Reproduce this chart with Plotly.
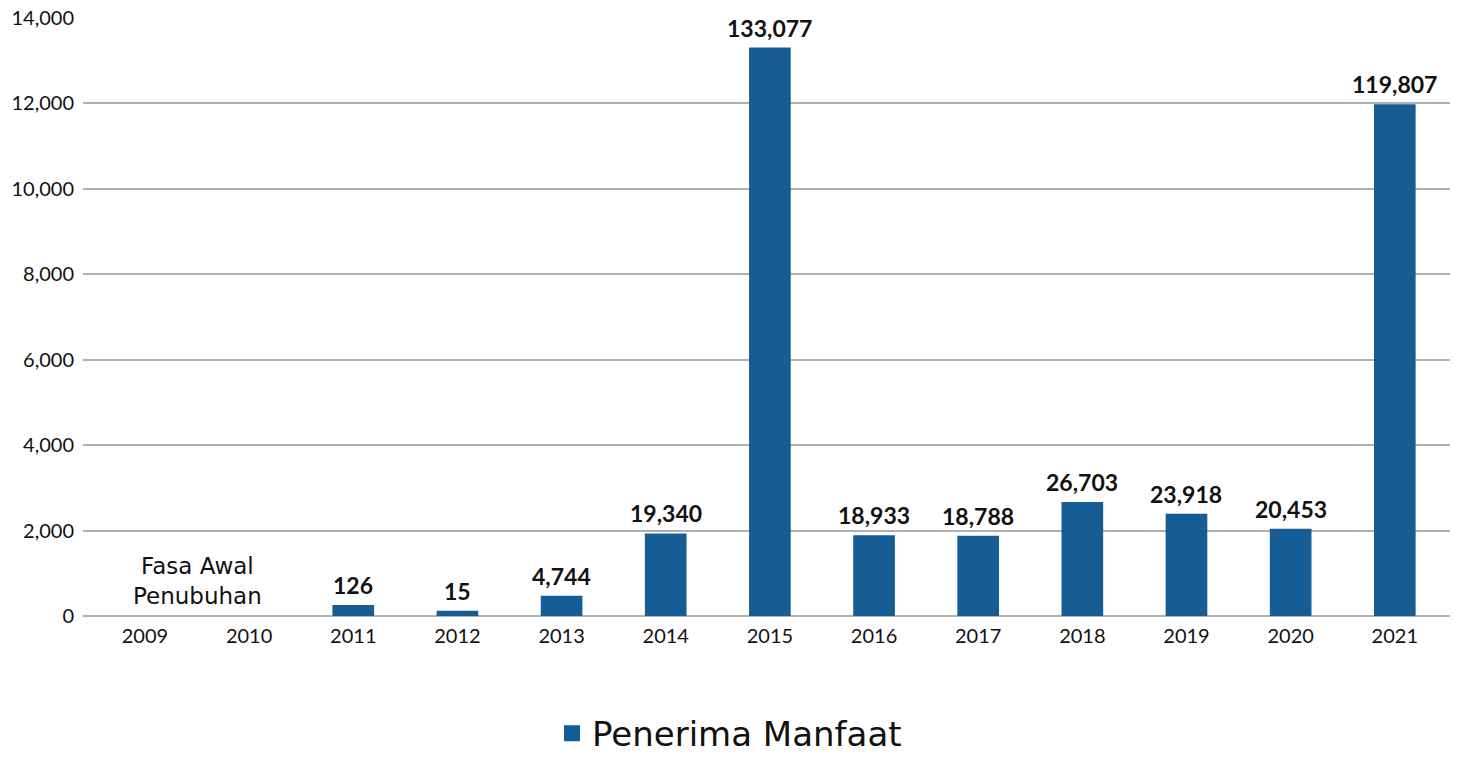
import plotly.graph_objects as go

years = ["2009", "2010", "2011", "2012", "2013", "2014", "2015", "2016", "2017", "2018", "2019", "2020", "2021"]
bar_values = [None, None, 255, 120, 474, 1934, 13308, 1893, 1879, 2670, 2392, 2045, 11981]
label_texts = ["", "", "126", "15", "4,744", "19,340", "133,077", "18,933", "18,788", "26,703", "23,918", "20,453", "119,807"]
y_ticks = [0, 2000, 4000, 6000, 8000, 10000, 12000, 14000]
series_name = "Penerima Manfaat"
note_text = "Fasa Awal<br>Penubuhan"

BAR = "#165d96"
FONT = "Lato, 'Open Sans', sans-serif"
WIDE = "'DejaVu Sans', 'Open Sans', sans-serif"

fig = go.Figure()
fig.add_trace(go.Bar(
    x=years, y=bar_values, marker_color=BAR, marker_line_width=0,
    showlegend=False, hoverinfo="skip",
))
# legend entry
fig.add_trace(go.Scatter(
    x=[None], y=[None], mode="markers", name=series_name,
    marker=dict(symbol="square", size=20, color=BAR),
))

# value labels above bars (x given as category index)
for i, (v, t) in enumerate(zip(bar_values, label_texts)):
    if v is None or not t:
        continue
    fig.add_annotation(
        x=i, y=v, xref="x", yref="y", text=t, showarrow=False,
        yanchor="bottom", yshift=4,
        font=dict(size=23, color="#111111", family=FONT, weight="bold"),
    )

fig.add_annotation(
    x=0.5, y=820, xref="x", yref="y", text=note_text, showarrow=False,
    font=dict(size=23, color="#111111", family=WIDE), align="center",
)

fig.update_layout(
    width=1459, height=757,
    paper_bgcolor="white", plot_bgcolor="white",
    margin=dict(l=83, r=9, t=18, b=141),
    bargap=0.6,
    font=dict(family=FONT, color="#111111"),
    xaxis=dict(
        type="category", range=[-0.595, 12.53], automargin=False,
        showgrid=False, showline=False, ticks="",
        tickfont=dict(size=20, color="#111111"), ticklabelstandoff=6,
    ),
    yaxis=dict(
        range=[0, 14000], tickvals=y_ticks, tickformat=",d", automargin=False,
        showgrid=True, gridcolor="#b0b0b0", gridwidth=1.5,
        zeroline=True, zerolinecolor="#b0b0b0", zerolinewidth=1.5,
        showline=False, ticks="", ticklabelstandoff=8,
        ticklabeloverflow="allow",
        tickfont=dict(size=20, color="#111111"),
    ),
    legend=dict(
        orientation="h", xref="container", yref="container",
        x=0.5, xanchor="center", y=0.031, yanchor="middle",
        font=dict(size=34, color="#111111", family=WIDE),
        itemwidth=30,
    ),
)

fig.write_html(
    "out.html",
    config={"displayModeBar": False},
    post_script="document.body.style.margin='0';document.body.style.overflow='hidden';",
)
